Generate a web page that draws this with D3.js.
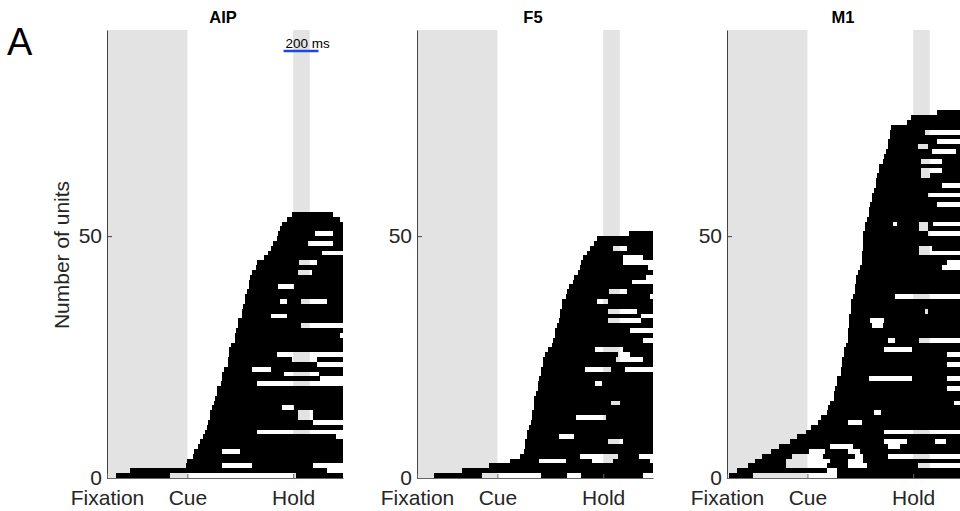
<!DOCTYPE html>
<html>
<head>
<meta charset="utf-8">
<script src="https://cdn.jsdelivr.net/npm/d3@7"></script>
<style>
  body { margin: 0; background: #fff; }
  svg text { font-family: "Liberation Sans", Arial, sans-serif; fill: #262626; }
</style>
</head>
<body>
<div id="chart"></div>
<script>
// task events (ms from fixation onset)
const areas = ['AIP', 'F5', 'M1'];
const eventTimes = [0, 460, 1065];
const eventLabels = ['Fixation', 'Cue', 'Hold'];
const fixationBand = [0, 460];
const holdBand = [1065, 1160];
const timeMax = 1350;
const unitTicks = [0, 50];
const unitMax = 92.6;
const scaleBarMs = [1010, 1210];

// AIP: onset of each unit (sorted), early ends [unit, ms], gaps [unit, from, to]
const aipOnset = [50, 130, 450, 460, 490, 500, 520, 530, 550, 560,
                  570, 580, 590, 590, 600, 610, 620, 630, 630, 650,
                  660, 660, 670, 690, 690, 700, 700, 710, 730, 730,
                  740, 750, 750, 770, 770, 780, 790, 790, 800, 810,
                  810, 820, 830, 850, 860, 900, 920, 940, 950, 970,
                  980, 990, 1000, 1030, 1060];
const aipEnds = [[2, 1260], [3, 1180], [9, 1310], [10, 860], [12, 1180], [20, 860], [21, 1220],
                 [24, 1200], [26, 970], [30, 1330], [32, 1110], [47, 1230], [54, 1330], [55, 1290]];
const aipGaps = [[1, 360, 1080], [3, 660, 830], [6, 660, 760], [13, 1090, 1180], [14, 1090, 1180],
                 [15, 1000, 1070], [22, 1010, 1210], [23, 830, 940], [25, 1060, 1200], [34, 940, 1030],
                 [37, 990, 1030], [37, 1110, 1260], [40, 980, 1070], [43, 1090, 1170], [45, 1100, 1200],
                 [49, 1150, 1290], [51, 1190, 1290]];

// F5
const f5Onset = [100, 260, 410, 530, 590, 610, 620, 620, 630, 630,
                 640, 650, 660, 660, 670, 670, 670, 680, 690, 690,
                 700, 710, 710, 720, 720, 730, 750, 770, 780, 790,
                 790, 800, 810, 820, 820, 830, 830, 850, 860, 870,
                 890, 900, 920, 930, 940, 950, 970, 990, 1010, 1030,
                 1210];
const f5Ends = [[1, 1290], [4, 1330], [5, 1270], [23, 1190], [29, 1290], [31, 1220], [34, 1280],
                [38, 1330], [41, 1230], [42, 1310], [44, 1320], [45, 1180]];
const f5Gaps = [[1, 370, 710], [1, 860, 940], [4, 700, 850], [4, 1000, 1120], [5, 930, 1150],
                [8, 1090, 1180], [9, 810, 900], [13, 910, 1080], [16, 1110, 1160], [20, 1020, 1060],
                [23, 960, 1110], [25, 1140, 1290], [26, 1150, 1220], [27, 1020, 1180], [33, 1090, 1280],
                [35, 1090, 1260], [37, 1030, 1090], [39, 1100, 1200], [46, 1180, 1290], [48, 1120, 1200]];

// M1
const m1Onset = [10, 60, 120, 160, 200, 250, 300, 360, 400, 450,
                 480, 520, 540, 570, 580, 590, 610, 610, 620, 630,
                 630, 650, 650, 660, 660, 670, 670, 680, 690, 690,
                 690, 700, 700, 700, 710, 710, 710, 720, 730, 730,
                 740, 740, 750, 760, 770, 770, 770, 780, 780, 780,
                 780, 790, 790, 800, 810, 810, 820, 830, 830, 840,
                 850, 850, 860, 870, 870, 890, 900, 910, 920, 920,
                 930, 930, 940, 1030, 1050, 1200];
const m1Ends = [[3, 1090], [5, 920], [10, 900], [16, 1300], [19, 1260], [21, 1260], [24, 1260],
                [26, 1260], [29, 1100], [38, 960], [44, 1230], [45, 1260], [47, 1100], [51, 1150],
                [53, 1180], [57, 1200], [59, 1150], [61, 1230], [70, 1200], [72, 1130]];
const m1Gaps = [[1, 150, 630], [2, 570, 630], [3, 340, 570], [3, 690, 800], [4, 340, 590],
                [4, 690, 780], [5, 370, 550], [5, 730, 780], [6, 470, 560], [6, 690, 760],
                [7, 590, 720], [7, 920, 990], [8, 900, 1030], [8, 1190, 1250], [12, 690, 770],
                [14, 840, 880], [21, 810, 1060], [27, 900, 1060], [29, 920, 960], [32, 830, 890],
                [33, 820, 900], [35, 1130, 1150], [48, 1100, 1170], [52, 1100, 1150], [53, 950, 970],
                [53, 1100, 1150], [63, 1110, 1160], [64, 1110, 1230], [66, 1110, 1230],
                [68, 1170, 1310], [69, 1090, 1150]];

const panelData = [
    {onset: aipOnset, ends: aipEnds, gaps: aipGaps},
    {onset: f5Onset, ends: f5Ends, gaps: f5Gaps},
    {onset: m1Onset, ends: m1Ends, gaps: m1Gaps}
];

const width = 960;
const height = 511;
const panelLeft = [107, 417, 727];
const panelWidth = 236;

// split each unit's active period into black segments
function buildSegments(p) {
    let endMap = new Map(p.ends);
    let segs = [];
    p.onset.forEach((on, i) => {
        let unit = i + 1;
        let pieces = [[on, endMap.has(unit) ? endMap.get(unit) : timeMax]];
        p.gaps.filter(g => g[0] === unit).forEach(g => {
            let next = [];
            pieces.forEach(([a, b]) => {
                if (g[2] <= a || g[1] >= b) { next.push([a, b]); return; }
                if (g[1] > a) next.push([a, g[1]]);
                if (g[2] < b) next.push([g[2], b]);
            });
            pieces = next;
        });
        pieces.forEach(([a, b]) => segs.push({unit: unit, t0: a, t1: b}));
    });
    return segs;
}

const svg = d3.select('#chart')
              .append('svg')
              .attr('width', width)
              .attr('height', height);

const y = d3.scaleLinear().domain([0, unitMax]).range([478, 30]);

areas.forEach((name, i) => {
    const x = d3.scaleLinear().domain([0, timeMax]).range([panelLeft[i], panelLeft[i] + panelWidth]);
    const g = svg.append('g');

    [fixationBand, holdBand].forEach(b => {
        g.append('rect')
         .attr('x', x(b[0]))
         .attr('y', y(unitMax))
         .attr('width', x(b[1]) - x(b[0]))
         .attr('height', y(0) - y(unitMax))
         .attr('fill', '#e3e3e3');
    });

    // rows snapped to whole pixels so neighbouring units join without seams
    g.selectAll('rect.bar')
     .data(buildSegments(panelData[i]))
     .enter()
     .append('rect')
     .attr('class', 'bar')
     .attr('x', d => Math.round(x(d.t0)))
     .attr('y', d => Math.round(y(d.unit)))
     .attr('width', d => Math.round(x(d.t1)) - Math.round(x(d.t0)))
     .attr('height', d => Math.round(y(d.unit - 1)) - Math.round(y(d.unit)))
     .attr('shape-rendering', 'crispEdges')
     .attr('fill', '#000');

    const yAxis = d3.axisLeft(y).tickValues(unitTicks).tickSizeInner(-5).tickSizeOuter(0).tickPadding(5);
    const ya = g.append('g')
                .attr('transform', `translate(${panelLeft[i]},0)`)
                .call(yAxis);
    ya.select('.domain').attr('stroke', '#444');
    ya.selectAll('.tick line').attr('stroke', '#444');
    ya.selectAll('.tick text').attr('font-size', 21).attr('fill', '#262626');

    const xAxis = d3.axisBottom(x).tickValues(eventTimes)
                    .tickFormat((d, j) => eventLabels[j])
                    .tickSizeInner(-4).tickSizeOuter(0).tickPadding(12);
    const xa = g.append('g')
                .attr('transform', `translate(0,${y(0)})`)
                .call(xAxis);
    xa.select('.domain').attr('stroke', '#666');
    xa.selectAll('.tick line').attr('stroke', '#666');
    xa.selectAll('.tick text').attr('font-size', 21).attr('fill', '#262626');

    g.append('text')
     .attr('x', panelLeft[i] + panelWidth / 2 - 2)
     .attr('y', 23)
     .attr('text-anchor', 'middle')
     .attr('font-size', 16.5)
     .attr('font-weight', 'bold')
     .style('fill', '#000')
     .text(name);

    if (i === 0) {
        g.append('line')
         .attr('x1', x(scaleBarMs[0]))
         .attr('x2', x(scaleBarMs[1]))
         .attr('y1', 51)
         .attr('y2', 51)
         .attr('stroke', '#1f45e8')
         .attr('stroke-width', 2.5);
        g.append('text')
         .attr('x', x(scaleBarMs[0]) + 2)
         .attr('y', 48)
         .attr('font-size', 13.5)
         .style('fill', '#000')
         .text('200 ms');
    }
});

svg.append('text')
   .attr('x', -255)
   .attr('y', 69)
   .attr('transform', 'rotate(-90)')
   .attr('text-anchor', 'middle')
   .attr('font-size', 21)
   .text('Number of units');

svg.append('text')
   .attr('x', 7)
   .attr('y', 55)
   .attr('font-size', 38)
   .style('fill', '#000')
   .text('A');
</script>
</body>
</html>
